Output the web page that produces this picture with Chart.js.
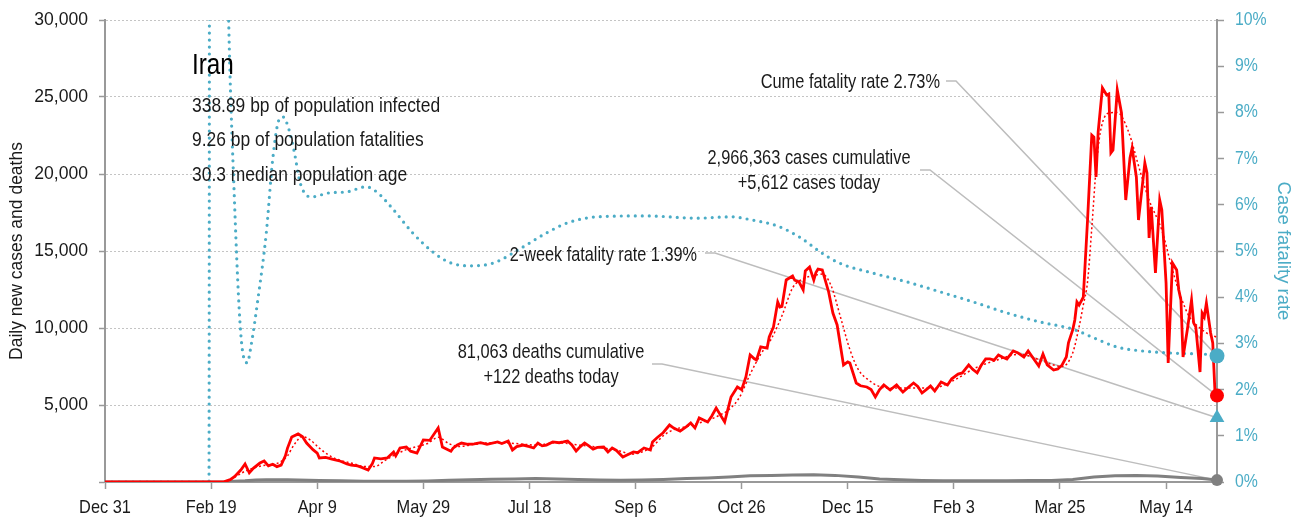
<!DOCTYPE html>
<html>
<head>
<meta charset="utf-8">
<script src="https://cdn.jsdelivr.net/npm/chart.js@4.4.1/dist/chart.umd.min.js"></script>
<style>
  html, body { margin: 0; padding: 0; background: #fff; }
  #wrap { width: 1296px; height: 525px; position: relative; }
</style>
</head>
<body>
<div id="wrap"><canvas id="chart"></canvas></div>
<script>
// Day numbers count from Dec 31, 2019 (day 0)
const tickLabels = ['Dec 31', 'Feb 19', 'Apr 9', 'May 29', 'Jul 18', 'Sep 6', 'Oct 26', 'Dec 15', 'Feb 3', 'Mar 25', 'May 14'];
const lastDay = 524;

const caseDays = [0, 50, 56, 59, 61, 64, 66, 68, 70, 73, 75, 77, 79, 81, 83, 85, 86, 88, 91, 93, 95, 98, 100, 101, 104, 107, 111, 114, 116, 119, 121, 124, 126, 127, 130, 133, 136, 137, 139, 142, 144, 147, 150, 153, 157, 159, 163, 164, 166, 168, 171, 174, 177, 180, 185, 187, 190, 192, 194, 197, 200, 202, 204, 206, 208, 211, 214, 216, 218, 220, 222, 224, 226, 228, 230, 232, 235, 237, 239, 241, 244, 246, 249, 251, 254, 257, 258, 260, 263, 266, 268, 271, 274, 276, 278, 280, 284, 286, 288, 292, 295, 298, 300, 302, 304, 306, 307, 309, 312, 313, 315, 317, 318, 319, 321, 324, 325, 327, 329, 330, 332, 334, 335, 336, 338, 341, 343, 345, 348, 350, 351, 354, 356, 359, 361, 363, 365, 367, 370, 372, 373, 376, 379, 381, 383, 385, 387, 389, 391, 394, 397, 399, 402, 404, 407, 409, 411, 413, 415, 417, 419, 421, 423, 425, 428, 430, 433, 435, 438, 440, 442, 444, 447, 449, 451, 453, 454, 456, 457, 458, 459, 461, 463, 465, 466, 467, 468, 470, 472, 473, 474, 475, 477, 479, 481, 483, 484, 486, 487, 490, 491, 492, 493, 495, 497, 498, 500, 501, 503, 505, 506, 507, 508, 510, 512, 513, 514, 516, 517, 518, 519, 521, 522, 523, 524];
const newCases = [0, 0, 10, 150, 350, 780, 1170, 600, 900, 1230, 1360, 1050, 1150, 1000, 1100, 1700, 2200, 2920, 3120, 2950, 2530, 2100, 1880, 1560, 1600, 1490, 1350, 1170, 1100, 1040, 950, 780, 1200, 1560, 1500, 1560, 1950, 1700, 2210, 2270, 2000, 1880, 2730, 2700, 3510, 2270, 2000, 2200, 2400, 2530, 2450, 2470, 2550, 2450, 2600, 2500, 2660, 2080, 2300, 2400, 2300, 2210, 2530, 2350, 2400, 2600, 2550, 2600, 2660, 2400, 2010, 2300, 2530, 2350, 2140, 2250, 2270, 1950, 2210, 2050, 1620, 1750, 1950, 1900, 2210, 2080, 2600, 2860, 3200, 3700, 3500, 3300, 3600, 3830, 3510, 4160, 3900, 4300, 4800, 3900, 5520, 6170, 6000, 6820, 8250, 8000, 7920, 8770, 8700, 9420, 10070, 11690, 11360, 11400, 13120, 13380, 13100, 12990, 12470, 13700, 13960, 13120, 13600, 13830, 13770, 12340, 10970, 10200, 7600, 7800, 7730, 6430, 6250, 6170, 6000, 5520, 6000, 6300, 5970, 6200, 6300, 5840, 6200, 6430, 6200, 5780, 6000, 6230, 5910, 6490, 6300, 6700, 7010, 7080, 7600, 7300, 7080, 7600, 7990, 8000, 7920, 8250, 8100, 7990, 8510, 8400, 8120, 8510, 7920, 7530, 8310, 7600, 7270, 7340, 7600, 8120, 9030, 9870, 10520, 11690, 11490, 12010, 17010, 22530, 22400, 19810, 22730, 25590, 25130, 25200, 21370, 21560, 25460, 23960, 18310, 21040, 21690, 19810, 17010, 20720, 20070, 15850, 17860, 13570, 18310, 17660, 12920, 7730, 14220, 13770, 12470, 11820, 8120, 9870, 11820, 10330, 10070, 7140, 10970, 10720, 11620, 9680, 9030, 5970, 5612];

// 7-day average of new cases
const avgDays = [0, 50, 56, 61, 66, 71, 76, 81, 86, 89, 93, 97, 101, 106, 111, 117, 122, 127, 132, 137, 142, 147, 152, 157, 162, 167, 172, 182, 193, 203, 213, 223, 233, 243, 248, 253, 258, 263, 268, 274, 279, 284, 289, 294, 299, 304, 309, 314, 319, 324, 329, 334, 338, 342, 347, 351, 355, 360, 365, 370, 380, 390, 400, 410, 420, 431, 441, 447, 451, 456, 459, 461, 463, 465, 467, 469, 473, 477, 482, 488, 492, 498, 503, 507, 511, 516, 520, 524];
const avgCases = [0, 0, 0, 300, 700, 950, 1100, 1200, 1700, 2400, 2950, 2700, 2200, 1700, 1400, 1200, 1000, 1000, 1400, 1800, 2100, 2300, 2500, 2900, 2500, 2300, 2400, 2550, 2500, 2400, 2550, 2400, 2250, 2000, 1800, 1950, 2300, 3000, 3400, 3600, 3800, 4000, 4300, 4700, 5500, 7000, 8300, 9300, 10800, 12600, 13200, 13400, 13500, 12800, 10500, 8600, 7300, 6600, 6200, 6100, 6100, 6100, 6600, 7400, 7900, 8300, 7900, 7600, 7500, 8380, 10070, 11500, 13000, 16500, 20300, 22700, 23960, 24000, 22860, 20070, 18310, 16360, 13770, 12010, 10720, 10000, 9600, 9400];

const deathDays = [0, 50, 56, 61, 66, 71, 76, 81, 86, 91, 96, 101, 111, 122, 132, 142, 152, 162, 172, 182, 193, 203, 213, 223, 233, 243, 253, 263, 274, 284, 294, 304, 314, 324, 334, 344, 355, 365, 375, 385, 395, 405, 415, 425, 436, 446, 456, 466, 476, 486, 496, 507, 517, 524];
const newDeaths = [0, 0, 5, 50, 80, 130, 140, 140, 145, 130, 110, 90, 75, 50, 45, 55, 70, 110, 140, 180, 200, 220, 200, 170, 130, 120, 130, 170, 220, 260, 320, 400, 430, 460, 470, 430, 330, 200, 140, 100, 85, 80, 75, 85, 90, 100, 170, 320, 400, 420, 390, 300, 220, 122];

// cumulative case fatality rate, %
const cfrDays = [0, 49, 50, 52, 55, 58, 61, 64, 67, 69, 72, 76, 79, 82, 84, 86, 89, 92, 97, 106, 114, 123, 128, 136, 145, 155, 163, 172, 183, 196, 208, 218, 232, 255, 279, 295, 305, 317, 328, 337, 346, 362, 378, 394, 409, 425, 441, 456, 466, 477, 488, 503, 522, 524];
const cfrValues = [0, 0, 100, 40, 20, 10.6, 6.1, 3.2, 2.58, 3.0, 3.94, 5.39, 6.97, 7.84, 7.9, 7.73, 7.19, 6.47, 6.17, 6.26, 6.28, 6.39, 6.28, 5.89, 5.39, 4.96, 4.74, 4.68, 4.74, 5.06, 5.39, 5.61, 5.74, 5.76, 5.71, 5.74, 5.67, 5.54, 5.28, 4.98, 4.74, 4.52, 4.33, 4.11, 3.90, 3.66, 3.46, 3.31, 3.12, 2.92, 2.84, 2.79, 2.75, 2.73];

// latest figures
const country = 'Iran';
const bpInfected = 338.89;
const bpFatalities = 9.26;
const medianAge = 30.3;
const casesCumulative = 2966363;
const casesToday = 5612;
const deathsCumulative = 81063;
const deathsToday = 122;
const cumeCfr = 2.73;
const twoWeekCfr = 1.39;

const RED = '#ff0000';
const TEAL = '#4bacc6';
const GREY = '#808080';
const INK = '#1a1a1a';
const FONT = '"Liberation Sans", Arial, sans-serif';

const pts = (days, vals) => days.map((d, i) => ({ x: d, y: vals[i] }));
const fmt = n => n.toLocaleString('en-US');

Chart.defaults.font.family = FONT;
Chart.defaults.color = INK;

// narrow text: regular face squeezed horizontally
function narrowText(ctx, str, x, y, size, stretch, align, color) {
  ctx.save();
  ctx.font = size + 'px ' + FONT;
  ctx.fillStyle = color || INK;
  ctx.textAlign = align || 'left';
  ctx.textBaseline = 'middle';
  ctx.translate(x, y);
  ctx.scale(stretch, 1);
  ctx.fillText(str, 0, 0);
  ctx.restore();
}

// tick labels, text block and the leader lines pointing at the latest values
const notesPlugin = {
  id: 'notes',
  beforeDatasetsDraw(chart) {
    const { ctx, scales } = chart;
    const xEnd = scales.x.getPixelForValue(lastDay);
    const leaders = [
      [946, 81, scales.y2.getPixelForValue(cumeCfr)],
      [920, 170, scales.y.getPixelForValue(casesToday)],
      [705, 253, scales.y2.getPixelForValue(twoWeekCfr)],
      [652, 364, scales.y.getPixelForValue(deathsToday)]
    ];
    ctx.save();
    ctx.strokeStyle = '#bdbdbd';
    ctx.lineWidth = 1.5;
    leaders.forEach(([x, y, yEnd]) => {
      ctx.beginPath();
      ctx.moveTo(x, y);
      ctx.lineTo(x + 10, y);
      ctx.lineTo(xEnd, yEnd);
      ctx.stroke();
    });
    ctx.restore();
  },
  afterDraw(chart) {
    const { ctx, scales } = chart;

    scales.x.ticks.forEach((t, i) => {
      narrowText(ctx, tickLabels[t.value / 50], scales.x.getPixelForTick(i), 508, 19, 0.86, 'center');
    });
    scales.y.ticks.forEach((t, i) => {
      if (t.value === 0) return;
      narrowText(ctx, fmt(t.value), 88, scales.y.getPixelForTick(i), 18.5, 0.95, 'right');
    });
    scales.y2.ticks.forEach((t, i) => {
      narrowText(ctx, t.value + '%', 1235, scales.y2.getPixelForTick(i), 18, 0.88, 'left', TEAL);
    });

    narrowText(ctx, country, 192, 66, 30, 0.81, 'left', '#000');
    narrowText(ctx, bpInfected + ' bp of population infected', 192, 106, 21, 0.83);
    narrowText(ctx, bpFatalities + ' bp of population fatalities', 192, 140, 21, 0.83);
    narrowText(ctx, medianAge + ' median population age', 192, 175, 21, 0.83);

    narrowText(ctx, 'Cume fatality rate ' + cumeCfr + '%', 940, 82, 21, 0.78, 'right');
    narrowText(ctx, fmt(casesCumulative) + ' cases cumulative', 809, 158, 21, 0.78, 'center');
    narrowText(ctx, '+' + fmt(casesToday) + ' cases today', 809, 183, 21, 0.78, 'center');
    narrowText(ctx, '2-week fatality rate ' + twoWeekCfr + '%', 697, 255, 21, 0.775, 'right');
    narrowText(ctx, fmt(deathsCumulative) + ' deaths cumulative', 551, 352, 21, 0.78, 'center');
    narrowText(ctx, '+' + deathsToday + ' deaths today', 551, 377, 21, 0.78, 'center');
  }
};

new Chart(document.getElementById('chart'), {
  type: 'line',
  data: {
    datasets: [
      { data: [{ x: lastDay, y: cumeCfr }], yAxisID: 'y2', showLine: false, pointStyle: 'circle', pointRadius: 7.5, pointBackgroundColor: TEAL, pointBorderWidth: 0, clip: false, order: 0 },
      { data: [{ x: lastDay, y: twoWeekCfr }], yAxisID: 'y2', showLine: false, pointStyle: 'triangle', pointRadius: 8.5, pointBackgroundColor: TEAL, pointBorderWidth: 0, clip: false, order: 0 },
      { data: [{ x: lastDay, y: casesToday }], yAxisID: 'y', showLine: false, pointStyle: 'circle', pointRadius: 7, pointBackgroundColor: RED, pointBorderWidth: 0, clip: false, order: 0 },
      { data: [{ x: lastDay, y: deathsToday }], yAxisID: 'y', showLine: false, pointStyle: 'circle', pointRadius: 6, pointBackgroundColor: GREY, pointBorderWidth: 0, clip: false, order: 0 },
      { label: 'New cases', data: pts(caseDays, newCases), yAxisID: 'y', borderColor: RED, borderWidth: 2.8, pointRadius: 0, tension: 0, order: 1 },
      { label: 'New cases, 7-day avg', data: pts(avgDays, avgCases), yAxisID: 'y', borderColor: RED, borderWidth: 1.5, borderDash: [2, 2.5], pointRadius: 0, cubicInterpolationMode: 'monotone', order: 2 },
      { label: 'New deaths', data: pts(deathDays, newDeaths), yAxisID: 'y', borderColor: GREY, borderWidth: 3, pointRadius: 0, tension: 0, order: 3 },
      { label: 'Case fatality rate', data: pts(cfrDays, cfrValues), yAxisID: 'y2', borderColor: TEAL, borderWidth: 3.2, borderDash: [0, 7], borderCapStyle: 'round', pointRadius: 0, cubicInterpolationMode: 'monotone', order: 4 }
    ]
  },
  options: {
    responsive: true,
    maintainAspectRatio: false,
    animation: false,
    events: [],
    layout: { padding: { top: 20, left: 0, right: 0, bottom: 0 } },
    plugins: { legend: { display: false }, tooltip: { enabled: false } },
    scales: {
      x: {
        type: 'linear',
        min: 0,
        max: lastDay,
        afterBuildTicks: axis => { axis.ticks = tickLabels.map((_, i) => ({ value: i * 50 })); },
        afterFit: axis => { axis.height = 43; },
        ticks: { display: false },
        grid: { drawOnChartArea: false, tickLength: 7, color: '#999', tickWidth: 1.5 },
        border: { color: '#999', width: 2 }
      },
      y: {
        position: 'left',
        min: 0,
        max: 30000,
        afterFit: axis => { axis.width = 105; },
        ticks: { display: false, stepSize: 5000 },
        grid: { color: '#c4c4c4', lineWidth: 1, tickLength: 6, tickColor: '#999', tickWidth: 1.5 },
        border: { color: '#999', width: 2, dash: [2, 2] },
        title: { display: true, text: 'Daily new cases and deaths', color: INK, font: { size: 17.5 }, padding: { top: 7, bottom: 0 } }
      },
      y2: {
        position: 'right',
        min: 0,
        max: 10,
        afterFit: axis => { axis.width = 79; },
        ticks: { display: false, stepSize: 1 },
        grid: { drawOnChartArea: false, tickLength: 7, color: '#999', tickWidth: 1.5 },
        border: { color: '#999', width: 2 },
        title: { display: true, text: 'Case fatality rate', color: TEAL, font: { size: 18.5 }, padding: { top: 2, bottom: 0 } }
      }
    }
  },
  plugins: [notesPlugin]
});
</script>
</body>
</html>
